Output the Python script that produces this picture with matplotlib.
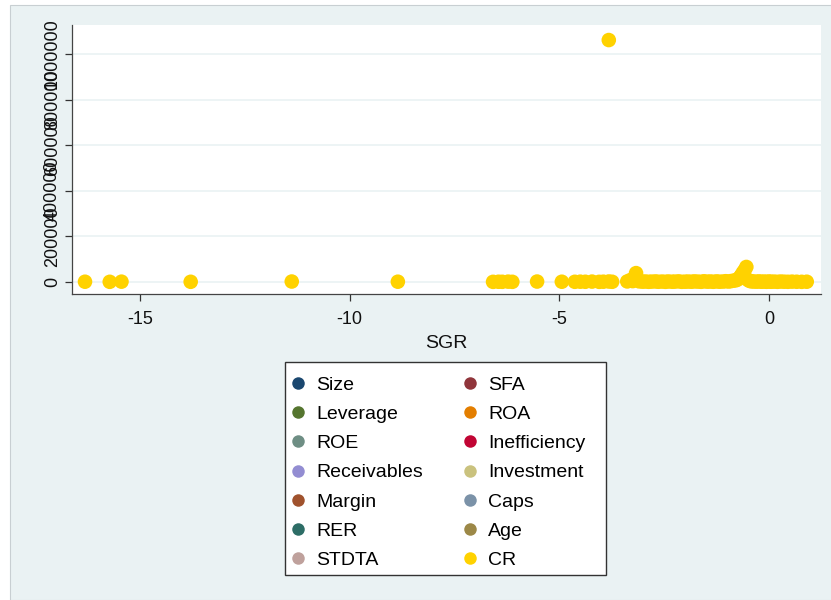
import numpy as np
import matplotlib
matplotlib.use("Agg")
import matplotlib.pyplot as plt
from matplotlib.lines import Line2D
from matplotlib.patches import Rectangle

plt.rcParams['font.family'] = ['Liberation Sans', 'DejaVu Sans']

# SGR (x) and CR (y) values
sgr = [-16.31, -15.72, -15.44, -13.79, -11.38, -8.85,
       -6.58, -6.45, -6.36, -6.22, -6.12, -5.53, -4.94,
       -4.63, -4.5, -4.38, -4.22, -4.05, -3.95, -3.82, -3.74, -3.82,
       -3.38, -3.3, -3.25, -3.17, -3.1, -3.02, -2.95, -2.87, -2.8, -2.71,
       -2.64, -2.55, -2.47, -2.4, -2.31, -2.25, -2.16, -2.08, -2.0, -1.93,
       -1.85, -1.78, -1.7, -1.62, -1.55, -1.47, -1.4, -1.33, -1.25, -1.18,
       -1.1, -1.03, -0.96, -0.9, -0.84, -0.78, -0.74, -0.7, -0.66, -0.62,
       -0.58, -0.54, -0.5, -0.46, -0.42, -0.37, -0.3, -0.24, -0.18, -0.12,
       -0.06, 0.0, 0.05, 0.12, 0.2, 0.28, 0.36, 0.45, 0.55, 0.66, 0.78, 0.9]
cr = [1200, 800, 1500, 900, 2100, 1300,
      700, 1100, 900, 1600, 800, 2000, 1200,
      900, 1400, 1000, 1800, 700, 1300, 2200, 1000, 1061000,
      2500, 9000, 4000, 39000, 3000, 1500, 2200, 900, 1700, 2500,
      1100, 1900, 800, 2300, 1200, 1600, 2800, 900, 1400, 2000,
      1200, 2600, 1800, 900, 3100, 1500, 2200, 1000, 2700, 1300,
      1900, 3500, 2100, 4200, 6000, 8000, 12000, 20000, 30000, 42000,
      52000, 66000, 9000, 4500, 3000, 2100, 1500, 2600, 1200, 1900,
      900, 2300, 1100, 1700, 800, 2000, 1300, 900, 1600, 1100, 800, 1200]

series = ['Size', 'Leverage', 'ROE', 'Receivables', 'Margin', 'RER', 'STDTA',
          'SFA', 'ROA', 'Inefficiency', 'Investment', 'Caps', 'Age', 'CR']
colors = ['#1a476f', '#55752f', '#6e8e84', '#938dd2', '#a0522d', '#2d6d66', '#bfa19c',
          '#90353b', '#e37e00', '#c10534', '#cac27e', '#7b92a8', '#9c8847', '#ffd200']

bg = '#eaf2f3'

fig = plt.figure(figsize=(8.31, 6.0), dpi=100)
fig.patch.set_facecolor('white')
fig.add_artist(Rectangle((10 / 831, 0), 1, 595 / 600, transform=fig.transFigure,
                         facecolor=bg, edgecolor='#c8cfd2', linewidth=0.8, zorder=0))

ax = fig.add_axes([72 / 831, 1 - 294 / 600, (821 - 72) / 831, (294 - 25) / 600])
ax.set_facecolor('white')
ax.scatter(sgr, cr, s=110, color=colors[-1], edgecolors='none', zorder=3, clip_on=False)

ax.set_xlim(-16.62, 1.24)
ax.set_ylim(-52600, 1127000)
ax.set_xticks([-15, -10, -5, 0])
ax.set_xticklabels(['-15', '-10', '-5', '0'])
ax.set_yticks([0, 200000, 400000, 600000, 800000, 1000000])
ax.set_yticklabels(['0', '200000', '400000', '600000', '800000', '1000000'],
                   rotation=90, va='center')
ax.tick_params(axis='both', length=5, width=0.9, color='#333333', labelsize=13,
               labelcolor='#111111')
ax.tick_params(axis='y', pad=3)
ax.tick_params(axis='x', pad=7)
ax.grid(axis='y', color=bg, linewidth=1.2, zorder=0)
ax.set_axisbelow(True)
for side in ['top', 'right']:
    ax.spines[side].set_visible(False)
for side in ['left', 'bottom']:
    ax.spines[side].set_color('#444444')
    ax.spines[side].set_linewidth(0.9)
ax.set_xlabel('SGR', fontsize=14, labelpad=5, color='#111111')

# legend box drawn separately so the padding matches the Stata look
fig.add_artist(Rectangle((285 / 831, 1 - 575 / 600), 321 / 831, 213 / 600,
                         transform=fig.transFigure, facecolor='white',
                         edgecolor='#333333', linewidth=1.0, zorder=1))
handles = [Line2D([], [], marker='o', linestyle='none', markersize=9,
                  markerfacecolor=c, markeredgecolor='none') for c in colors]
leg = fig.legend(handles, series, ncol=2, loc='upper left',
                 bbox_to_anchor=(291 / 831, 1 - 376 / 600),
                 fontsize=14, frameon=False, handlelength=0.7, handletextpad=0.6,
                 columnspacing=2.05, labelspacing=0.6, borderpad=0, borderaxespad=0)
leg.set_zorder(2)

fig.savefig('out.png', dpi=100, facecolor=fig.get_facecolor())
